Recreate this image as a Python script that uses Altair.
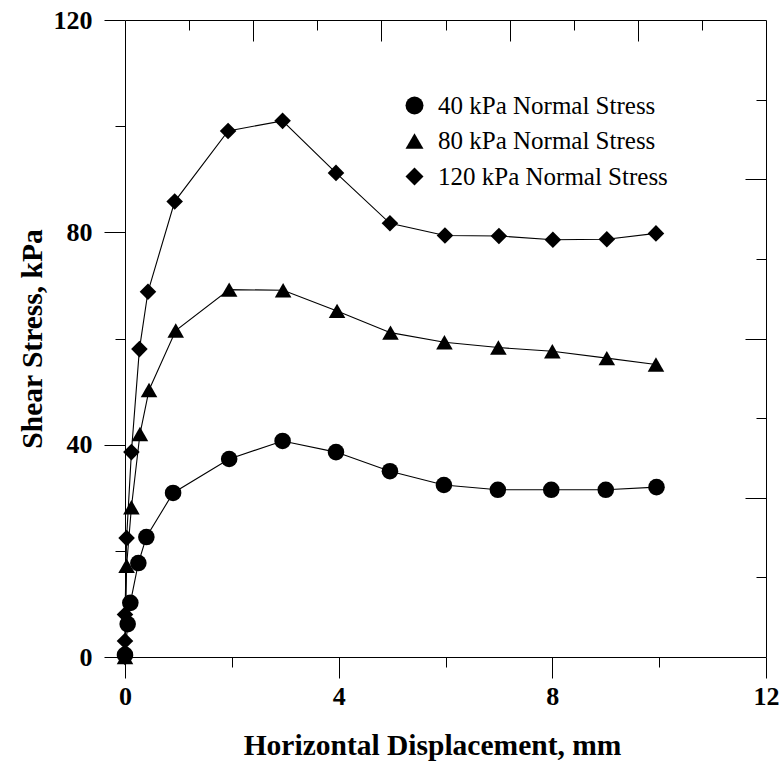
import altair as alt
import pandas as pd

FONT = "Liberation Serif"

series_names = ["40 kPa Normal Stress", "80 kPa Normal Stress", "120 kPa Normal Stress"]
series_shapes = ["circle", "triangle-up", "diamond"]

# 40 kPa normal stress (circles)
c_x = [0.00, 0.05, 0.10, 0.25, 0.40, 0.90, 1.95, 2.95, 3.95, 4.96, 5.97, 6.98, 7.98, 9.00, 9.95]
c_y = [0.4, 6.2, 10.2, 17.7, 22.6, 30.9, 37.3, 40.7, 38.6, 35.0, 32.4, 31.5, 31.5, 31.5, 32.0]

# 80 kPa normal stress (triangles)
t_x = [0.00, 0.03, 0.12, 0.28, 0.45, 0.95, 1.95, 2.96, 3.97, 4.97, 5.98, 6.99, 8.0, 9.02, 9.94]
t_y = [0.0, 17.2, 28.2, 42.0, 50.3, 61.5, 69.2, 69.1, 65.2, 61.1, 59.3, 58.3, 57.6, 56.3, 55.1]

# 120 kPa normal stress (diamonds)
d_x = [0.00, 0.00, 0.00, 0.03, 0.12, 0.27, 0.43, 0.93, 1.93, 2.95, 3.95, 4.96, 5.99, 7.00, 8.01, 9.02, 9.94]
d_y = [0.0, 3.0, 8.0, 22.4, 38.6, 58.0, 68.8, 85.8, 99.1, 101.0, 91.2, 81.7, 79.4, 79.3, 78.6, 78.7, 79.8]

# axis tick values
x_ticks_bottom = [0, 2, 4, 6, 8, 10, 12]
y_ticks_left = [0, 20, 40, 60, 80, 100, 120]
x_ticks_top = [1.2, 2.4, 3.6, 4.8, 6.0, 7.2, 8.4, 9.6, 10.8]
y_ticks_right = [15, 30, 45, 60, 75, 90, 105]

rows = []
for name, xs, ys in zip(series_names, [c_x, t_x, d_x], [c_y, t_y, d_y]):
    for i, (xv, yv) in enumerate(zip(xs, ys)):
        rows.append({"series": name, "x": xv, "y": yv, "idx": i})
df = pd.DataFrame(rows)

W, H = 641, 637
xscale = alt.Scale(domain=[0, 12], nice=False, zero=False)
yscale = alt.Scale(domain=[0, 120], nice=False, zero=False)

common_axis = dict(grid=False, domainColor="black", tickColor="black", domainWidth=1, tickWidth=1,
                   labelFont=FONT, labelFontSize=26, labelFontWeight="bold", labelColor="black",
                   titleFont=FONT, titleFontSize=29.5, titleFontWeight="bold", titleColor="black")

x_axis_bottom = alt.Axis(
    orient="bottom", values=x_ticks_bottom,
    tickSize={"condition": {"test": "datum.value % 4 === 0", "value": 21}, "value": 10},
    labelExpr="datum.value % 4 === 0 ? datum.label : ''",
    labelPadding=5, labelFlush=False, labelOverlap=False,
    title="Horizontal Displacement, mm", titleX=307, titleY=88, titleBaseline="middle",
    **common_axis)
y_axis_left = alt.Axis(
    orient="left", values=y_ticks_left,
    tickSize={"condition": {"test": "datum.value % 40 === 0", "value": 21}, "value": 10},
    labelExpr="datum.value % 40 === 0 ? datum.label : ''",
    labelPadding=12, labelFlush=False, labelOverlap=False,
    title="Shear Stress, kPa", titleX=-93, titleBaseline="middle",
    **common_axis)

x_axis_top = alt.Axis(
    orient="bottom", offset=-H, values=x_ticks_top, labels=False, title=None,
    tickSize={"condition": {"test": "abs(datum.value / 2.4 - round(datum.value / 2.4)) < 0.01", "value": 21}, "value": 10},
    **common_axis)
y_axis_right = alt.Axis(
    orient="left", offset=-W, values=y_ticks_right, labels=False, title=None,
    tickSize={"condition": {"test": "datum.value % 30 === 0", "value": 21}, "value": 10},
    **common_axis)

base = alt.Chart(df)

lines = base.mark_line(color="black", strokeWidth=1.1).encode(
    x=alt.X("x:Q", scale=xscale, axis=x_axis_bottom),
    y=alt.Y("y:Q", scale=yscale, axis=y_axis_left),
    detail="series:N",
    order="idx:Q",
)

points = base.mark_point(filled=True, color="black", opacity=1, size=275).encode(
    x=alt.X("x:Q", scale=xscale, axis=x_axis_top),
    y=alt.Y("y:Q", scale=yscale, axis=y_axis_right),
    shape=alt.Shape(
        "series:N",
        scale=alt.Scale(domain=series_names, range=series_shapes),
        legend=alt.Legend(
            title=None, orient="none", legendX=277, legendY=73, padding=0,
            labelFont=FONT, labelFontSize=25, labelColor="black", labelLimit=500,
            symbolSize=324, symbolFillColor="black", symbolStrokeColor="black",
            symbolStrokeWidth=0, symbolOpacity=1, rowPadding=9.5, labelOffset=11,
        ),
    ),
)

chart = alt.layer(lines, points).resolve_axis(x="independent", y="independent").properties(
    width=W, height=H,
    autosize=alt.AutoSizeParams(type="none"),
    padding={"left": 125, "top": 20, "right": 13, "bottom": 105},
    background="white",
).configure_view(stroke=None)

chart.save("out.html", embed_options={"renderer": "svg", "actions": False})
